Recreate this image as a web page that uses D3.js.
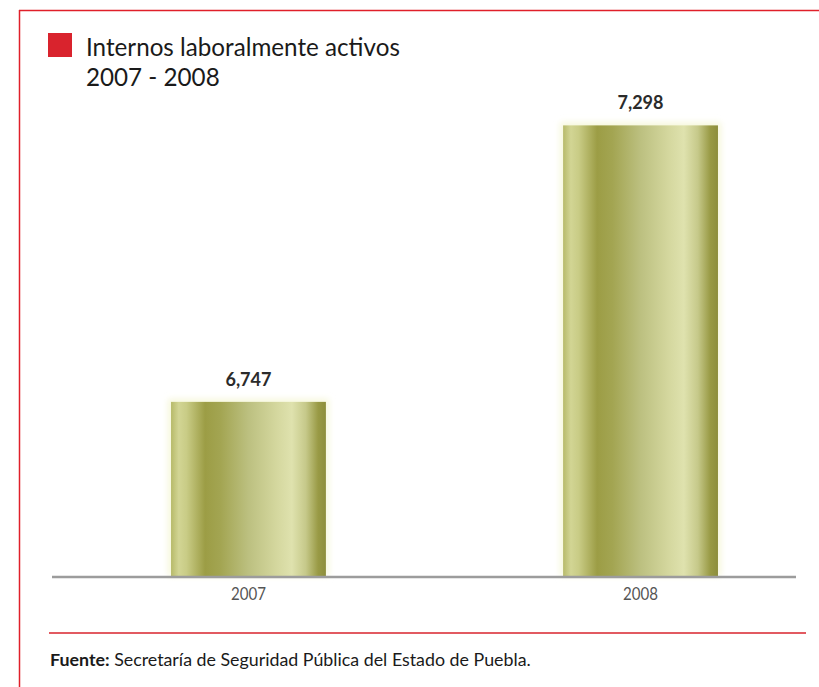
<!DOCTYPE html>
<html>
<head>
<meta charset="utf-8">
<script src="https://cdn.jsdelivr.net/npm/d3@7"></script>
<style>
  html, body { margin: 0; padding: 0; background: #fff; }
  svg { display: block; }
  text { font-family: Lato, "Open Sans", sans-serif; }
</style>
</head>
<body>
<svg id="chart" width="819" height="687"></svg>
<script>
const categories = ["2007", "2008"];
const values = [6747, 7298];
const valueLabels = ["6,747", "7,298"];
const titleLines = ["Internos laboralmente activos", "2007 - 2008"];
const sourceBold = "Fuente:";
const sourceText = " Secretaría de Seguridad Pública del Estado de Puebla.";

const svg = d3.select("#chart");
const W = 819, H = 687;

// fit a text's font size so its width matches a target width
function fit(sel, target) {
  const fs = parseFloat(sel.attr("font-size"));
  const w = sel.node().getComputedTextLength();
  if (w > 0) sel.attr("font-size", (fs * target / w).toFixed(2));
}

// frame (red top and left border)
svg.append("line").attr("x1", 19).attr("x2", W).attr("y1", 10.5).attr("y2", 10.5)
  .attr("stroke", "#e0202a").attr("stroke-width", 1.5);
svg.append("line").attr("x1", 19.5).attr("x2", 19.5).attr("y1", 10).attr("y2", H)
  .attr("stroke", "#e0202a").attr("stroke-width", 1.5);

// title
svg.append("rect").attr("x", 48).attr("y", 33).attr("width", 24).attr("height", 24).attr("fill", "#d9232d");
const t1 = svg.append("text").attr("x", 86).attr("y", 56).attr("font-size", 26).attr("fill", "#1a1a1a").text(titleLines[0]);
fit(t1, 314);
const t2 = svg.append("text").attr("x", 86).attr("y", 86).attr("font-size", t1.attr("font-size")).attr("fill", "#1a1a1a").text(titleLines[1]);

// scales
const x = d3.scaleBand().domain(categories).range([52, 837]).paddingInner(0.605).paddingOuter(0.3036);
const baseY = 576;
const y = d3.scaleLinear().domain([6400, 7300]).range([baseY, baseY - 900 * 0.5018]);

// gradient
const defs = svg.append("defs");
const grad = defs.append("linearGradient").attr("id", "barGrad")
  .attr("x1", "0%").attr("x2", "100%").attr("y1", "0%").attr("y2", "0%");
[
  [0, "#b7ba6a"], [0.05, "#d2d594"], [0.1, "#c9cc86"], [0.22, "#9c9d45"], [0.32, "#a3a552"],
  [0.5, "#bcc080"], [0.68, "#d4d79e"], [0.78, "#dfe2ae"], [0.87, "#c6c98a"], [0.95, "#999a45"], [1, "#8d8e3c"]
].forEach(([o, c]) => grad.append("stop").attr("offset", o).attr("stop-color", c));

const glow = defs.append("filter").attr("id", "glow").attr("x", "-10%").attr("y", "-10%").attr("width", "120%").attr("height", "120%");
glow.append("feGaussianBlur").attr("stdDeviation", 3);

// glow halo
svg.selectAll("rect.halo").data(values).join("rect").attr("class", "halo")
  .attr("x", (d, i) => x(categories[i]) - 3)
  .attr("y", d => y(d) - 3)
  .attr("width", x.bandwidth() + 6)
  .attr("height", d => baseY - y(d) + 3)
  .attr("fill", "#f6f7dc").attr("filter", "url(#glow)");

// bars
svg.selectAll("rect.bar").data(values).join("rect").attr("class", "bar")
  .attr("x", (d, i) => x(categories[i]))
  .attr("y", d => y(d))
  .attr("width", x.bandwidth())
  .attr("height", d => baseY - y(d))
  .attr("fill", "url(#barGrad)");

// value labels
const vals = svg.selectAll("text.val").data(values).join("text").attr("class", "val")
  .attr("x", (d, i) => x(categories[i]) + x.bandwidth() / 2)
  .attr("y", d => y(d) - 16)
  .attr("text-anchor", "middle").attr("font-size", 16).attr("font-weight", "bold")
  .attr("fill", "#2b2b2b")
  .text((d, i) => valueLabels[i]);
vals.each(function () { fit(d3.select(this), 46); });

// baseline axis
const axis = svg.append("g").attr("transform", `translate(0,${baseY})`)
  .call(d3.axisBottom(x).tickSize(0).tickPadding(12));
axis.select(".domain").remove();
svg.append("line").attr("x1", 52).attr("x2", 796).attr("y1", baseY + 1).attr("y2", baseY + 1)
  .attr("stroke", "#9c9c9c").attr("stroke-width", 2.5);
axis.selectAll("text").attr("font-size", 16.5).attr("fill", "#555")
  .attr("font-family", "Lato, sans-serif")
  .attr("textLength", 35).attr("lengthAdjust", "spacingAndGlyphs");

// footer
svg.append("line").attr("x1", 49).attr("x2", 806).attr("y1", 633).attr("y2", 633)
  .attr("stroke", "#d9232d").attr("stroke-width", 1.5);
const src = svg.append("text").attr("x", 50).attr("y", 665.5).attr("font-size", 14.5).attr("fill", "#1a1a1a");
src.append("tspan").attr("font-weight", "bold").text(sourceBold);
src.append("tspan").text(sourceText);
fit(src, 481);
</script>
</body>
</html>
